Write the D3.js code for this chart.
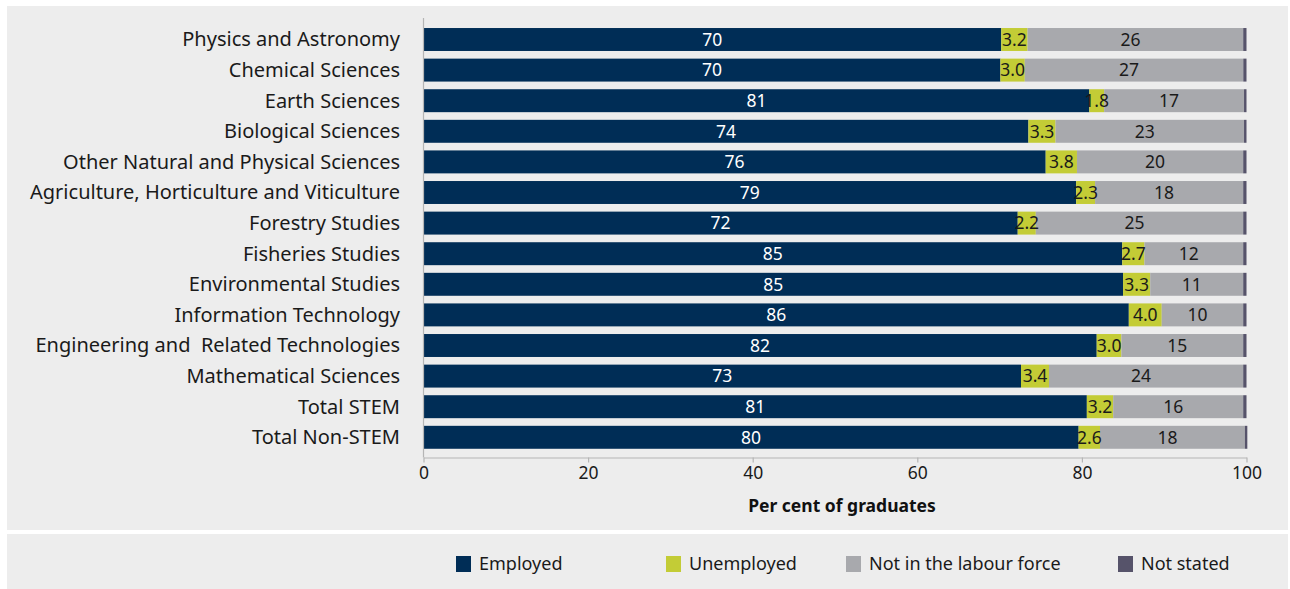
<!DOCTYPE html>
<html>
<head>
<meta charset="utf-8">
<script src="https://cdn.jsdelivr.net/npm/d3@7"></script>
<style>
  body { margin: 0; background: #fff; }
  text { font-family: "Noto Sans", "Open Sans", sans-serif; white-space: pre; }
</style>
</head>
<body>
<div id="chart"></div>
<script>
let width = 1290;
let height = 589;

// Fields of education, top to bottom
let fields = [
    "Physics and Astronomy",
    "Chemical Sciences",
    "Earth Sciences",
    "Biological Sciences",
    "Other Natural and Physical Sciences",
    "Agriculture, Horticulture and Viticulture",
    "Forestry Studies",
    "Fisheries Studies",
    "Environmental Studies",
    "Information Technology",
    "Engineering and  Related Technologies",
    "Mathematical Sciences",
    "Total STEM",
    "Total Non-STEM"
];

// Per cent of graduates in each labour force status
let employed   = [70.2, 70.1, 80.9, 73.5, 75.6, 79.3, 72.2, 84.9, 85.0, 85.7, 81.8, 72.6, 80.6, 79.6];
let unemployed = [3.2, 2.96, 1.8, 3.3, 3.8, 2.3, 2.2, 2.7, 3.3, 4.0, 3.0, 3.4, 3.2, 2.6];
let notInLF    = [26.2, 26.55, 17.0, 22.9, 20.2, 18.0, 25.2, 12.0, 11.3, 9.9, 14.8, 23.6, 15.8, 17.6];
let notStated  = [0.4, 0.39, 0.3, 0.3, 0.4, 0.4, 0.4, 0.4, 0.4, 0.4, 0.4, 0.4, 0.4, 0.3];

let xTicks = [0, 20, 40, 60, 80, 100];

let seriesNames = ["Employed", "Unemployed", "Not in the labour force", "Not stated"];
let seriesKeys = ["employed", "unemployed", "notInLF", "notStated"];

let colors = d3.scaleOrdinal()
    .domain(seriesKeys)
    .range(["#002d56", "#c3cc36", "#a8a9ad", "#56536a"]);

// label format + colour for each segment (none for not stated)
let labelFmt = {
    employed: d3.format(".0f"),
    unemployed: d3.format(".1f"),
    notInLF: d3.format(".0f")
};
let labelColor = { employed: "#ffffff", unemployed: "#1a1a1a", notInLF: "#1a1a1a" };

let data = fields.map((f, i) => ({
    field: f,
    employed: employed[i],
    unemployed: unemployed[i],
    notInLF: notInLF[i],
    notStated: notStated[i]
}));

let margin = ({top: 24, right: 44, bottom: 132, left: 423.5});

let svg = d3.select("#chart")
    .append("svg")
    .attr("width", width)
    .attr("height", height);

// Panels
svg.append("rect")
    .attr("x", 7).attr("y", 6)
    .attr("width", 1281).attr("height", 524)
    .attr("fill", "#ededed");

svg.append("rect")
    .attr("x", 7).attr("y", 534)
    .attr("width", 1281).attr("height", 55)
    .attr("fill", "#ededed");

let xScale = d3.scaleLinear()
    .domain([0, 100])
    .range([margin.left, 1246.5]);

let yScale = d3.scaleBand()
    .domain(fields)
    .range([24.2, 452.6])
    .paddingInner(0.25)
    .paddingOuter(0.125);

let stack = d3.stack().keys(seriesKeys);
let stacked = stack(data);

// Bars
let groups = svg.append("g")
    .selectAll("g")
    .data(stacked)
    .join("g")
    .attr("fill", d => colors(d.key));

groups.selectAll("rect")
    .data(d => d)
    .join("rect")
    .attr("x", d => xScale(d[0]))
    .attr("y", d => yScale(d.data.field))
    .attr("width", d => xScale(d[1]) - xScale(d[0]))
    .attr("height", yScale.bandwidth());

// Value labels
stacked.filter(s => s.key !== "notStated").forEach(s => {
    svg.append("g")
        .selectAll("text")
        .data(s)
        .join("text")
        .attr("x", d => (xScale(d[0]) + xScale(d[1])) / 2 - (s.key === "notInLF" ? 5 : 0))
        .attr("y", d => yScale(d.data.field) + yScale.bandwidth() / 2)
        .attr("dy", "0.36em")
        .attr("text-anchor", "middle")
        .attr("font-size", 17.5)
        .attr("fill", labelColor[s.key])
        .text(d => labelFmt[s.key](d.data[s.key]));
});

// Category labels
svg.append("g")
    .selectAll("text")
    .data(fields)
    .join("text")
    .attr("x", 400)
    .attr("y", d => yScale(d) + yScale.bandwidth() / 2)
    .attr("dy", "0.34em")
    .attr("text-anchor", "end")
    .attr("font-size", 20)
    .attr("fill", "#1a1a1a")
    .text(d => d);

// Y axis line
svg.append("line")
    .attr("x1", margin.left).attr("x2", margin.left)
    .attr("y1", 18).attr("y2", 457.5)
    .attr("stroke", "#b5b5b5")
    .attr("stroke-width", 1.2);

// X axis
let xAxis = d3.axisBottom(xScale)
    .tickValues(xTicks)
    .tickSize(5)
    .tickSizeOuter(0)
    .tickPadding(4);

let gx = svg.append("g")
    .attr("transform", "translate(0,457.5)")
    .call(xAxis);

gx.select(".domain").attr("stroke", "#b5b5b5").attr("stroke-width", 1.2);
gx.selectAll(".tick line").attr("stroke", "#b5b5b5").attr("stroke-width", 1.2);
gx.selectAll(".tick text")
    .attr("font-size", 17.5)
    .attr("font-family", "'Noto Sans', 'Open Sans', sans-serif")
    .attr("fill", "#1a1a1a");

svg.append("text")
    .attr("x", 842)
    .attr("y", 506)
    .attr("dy", "0.36em")
    .attr("text-anchor", "middle")
    .attr("font-size", 17.5)
    .attr("font-weight", "bold")
    .attr("fill", "#111")
    .text("Per cent of graduates");

// Legend
let legendX = [456, 666, 846, 1118];
let legend = svg.append("g")
    .selectAll("g")
    .data(seriesKeys)
    .join("g")
    .attr("transform", (d, i) => "translate(" + legendX[i] + ",556)");

legend.append("rect")
    .attr("width", 15)
    .attr("height", 16)
    .attr("fill", d => colors(d));

legend.append("text")
    .attr("x", 23)
    .attr("y", 8)
    .attr("dy", "0.36em")
    .attr("font-size", 18)
    .attr("fill", "#1a1a1a")
    .text((d, i) => seriesNames[i]);
</script>
</body>
</html>
